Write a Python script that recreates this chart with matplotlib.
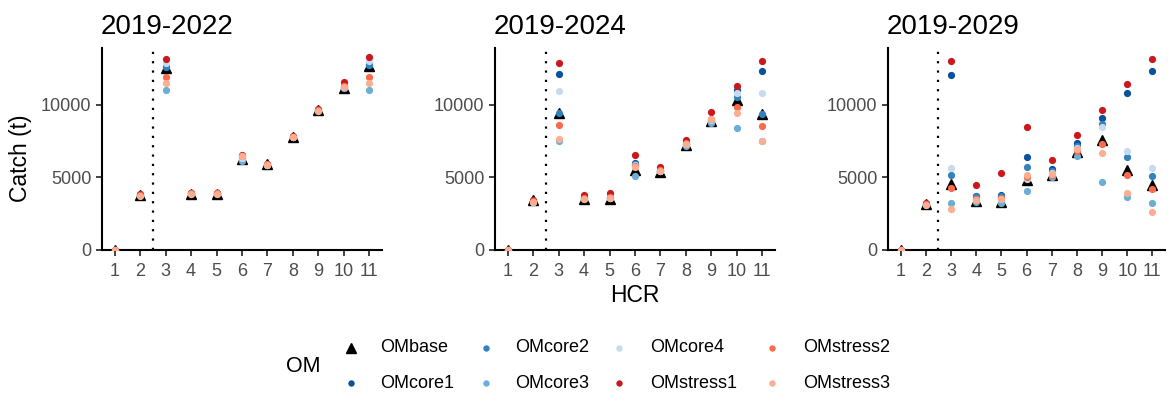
import matplotlib
matplotlib.use("Agg")
import matplotlib.pyplot as plt
from matplotlib.lines import Line2D
import numpy as np

plt.rcParams['font.family'] = ['Liberation Sans', 'DejaVu Sans']

hcr = np.arange(1, 12)
periods = ["2019-2022", "2019-2024", "2019-2029"]
oms = ["OMbase", "OMcore1", "OMcore2", "OMcore3", "OMcore4",
       "OMstress1", "OMstress2", "OMstress3"]
colors = ["black", "#08519C", "#3182BD", "#6BAED6", "#C6DBEF",
          "#CB181D", "#FB6A4A", "#FCAE91"]

# catch (t) by period -> OM -> HCR 1..11
catch_2022 = {
    "OMbase":    [0, 3800, 12550, 3880, 3880, 6300, 5900, 7770, 9650, 11200, 12700],
    "OMcore1":   [0, 3820, 12600, 3900, 3900, 6350, 5880, 7780, 9660, 11220, 12760],
    "OMcore2":   [0, 3810, 12600, 3900, 3900, 6300, 5880, 7770, 9650, 11200, 12760],
    "OMcore3":   [0, 3780, 11030, 3870, 3870, 6160, 5860, 7760, 9600, 11200, 11030],
    "OMcore4":   [0, 3800, 12920, 3900, 3900, 6350, 5880, 7780, 9650, 11220, 13050],
    "OMstress1": [0, 3880, 13170, 3960, 3960, 6530, 5950, 7850, 9750, 11610, 13330],
    "OMstress2": [0, 3820, 11910, 3920, 3920, 6480, 5900, 7800, 9680, 11300, 11910],
    "OMstress3": [0, 3750, 11540, 3860, 3860, 6450, 5860, 7760, 9570, 11220, 11500],
}
catch_2024 = {
    "OMbase":    [0, 3450, 9470, 3500, 3500, 5520, 5400, 7250, 8900, 10350, 9400],
    "OMcore1":   [0, 3350, 12140, 3560, 3600, 6020, 5480, 7320, 8950, 11030, 12370],
    "OMcore2":   [0, 3350, 9470, 3560, 3600, 5950, 5470, 7310, 8900, 10570, 9380],
    "OMcore3":   [0, 3300, 7520, 3540, 3580, 5100, 5450, 7200, 8780, 8440, 7500],
    "OMcore4":   [0, 3330, 10990, 3560, 3600, 5860, 5470, 7310, 8950, 10800, 10850],
    "OMstress1": [0, 3420, 12870, 3790, 3910, 6530, 5700, 7590, 9490, 11310, 13060],
    "OMstress2": [0, 3350, 8640, 3600, 3650, 5800, 5500, 7350, 9050, 9880, 8550],
    "OMstress3": [0, 3290, 7680, 3550, 3600, 5700, 5470, 7300, 9010, 9430, 7500],
}
catch_2029 = {
    "OMbase":    [0, 3150, 4550, 3350, 3330, 4830, 5150, 6780, 7590, 5520, 4480],
    "OMcore1":   [0, 3150, 12070, 3700, 3820, 6410, 5570, 7360, 9130, 10850, 12320],
    "OMcore2":   [0, 3150, 5200, 3750, 3750, 5750, 5470, 7180, 8700, 6390, 5100],
    "OMcore3":   [0, 3120, 3240, 3300, 3240, 4050, 5010, 6480, 4670, 3680, 3220],
    "OMcore4":   [0, 3150, 5680, 3500, 3500, 4900, 5300, 7050, 8500, 6830, 5630],
    "OMstress1": [0, 3250, 13035, 4460, 5330, 8460, 6200, 7930, 9655, 11430, 13200],
    "OMstress2": [0, 3150, 4300, 3550, 3600, 5000, 5200, 6850, 7310, 5200, 4230],
    "OMstress3": [0, 3100, 2830, 3430, 3500, 5170, 5240, 6940, 6710, 3960, 2620],
}
all_catch = [catch_2022, catch_2024, catch_2029]

fig = plt.figure(figsize=(11.68, 3.93), dpi=100)
W, H = 1168, 393
lefts = [102, 495, 888]
widths = [280, 280, 277]
top_px, bot_px = 48, 250

grey = "#4D4D4D"
for i, (period, data) in enumerate(zip(periods, all_catch)):
    ax = fig.add_axes([lefts[i] / W, 1 - bot_px / H, widths[i] / W, (bot_px - top_px) / H])
    ax.axvline(2.5, color="black", linestyle=(0, (1, 3.2)), linewidth=1.6, zorder=1)
    for om, c in zip(oms, colors):
        if om == "OMbase":
            ax.plot(hcr, data[om], linestyle="none", marker="^", color="black",
                    markersize=6.5, zorder=3)
        else:
            ax.plot(hcr, data[om], linestyle="none", marker="o", color=c,
                    markersize=5.2, markeredgewidth=0, zorder=3)
    ax.set_xlim(0.5, 11.5)
    ax.set_ylim(0, 13930)
    ax.set_xticks(hcr)
    ax.set_yticks([0, 5000, 10000])
    ax.set_yticklabels(["0", "5000", "10000"])
    for s in ["top", "right"]:
        ax.spines[s].set_visible(False)
    for s in ["left", "bottom"]:
        ax.spines[s].set_linewidth(1.5)
        ax.spines[s].set_zorder(2)
    ax.tick_params(axis="both", labelsize=13, labelcolor=grey, color="#333333",
                   length=4.5, width=1.3)
    ax.tick_params(axis="x", pad=4.5)
    ax.tick_params(axis="y", pad=3)
    ax.set_title(period, loc="left", fontsize=20, pad=10, x=-0.005)
    ax.patch.set_alpha(0)

# axis titles
fig.text(21 / W, 1 - 158 / H, "Catch (t)", fontsize=16.5, rotation=90,
         ha="center", va="center")
fig.text((lefts[1] + widths[1] / 2) / W, 1 - 296 / H, "HCR", fontsize=16.5,
         ha="center", va="center")

# legend, laid out as in the original (4 columns, 2 rows)
mark_x = [351, 486, 619, 772]
text_x = [380, 515, 650, 803]
row_y = [348, 383]
for k, (om, c) in enumerate(zip(oms, colors)):
    col, row = k // 2, k % 2
    mx, my = mark_x[col] / W, 1 - row_y[row] / H
    if om == "OMbase":
        mk = Line2D([mx], [my], linestyle="none", marker="^", color="black",
                    markersize=6.5, transform=fig.transFigure)
    else:
        mk = Line2D([mx], [my], linestyle="none", marker="o", color=c,
                    markersize=4.6, markeredgewidth=0, transform=fig.transFigure)
    fig.add_artist(mk)
    fig.text(text_x[col] / W, my, om, fontsize=13, ha="left", va="center")
fig.text(303 / W, 1 - 367 / H, "OM", fontsize=15.5, ha="center", va="center")

fig.savefig("out.png", dpi=100)
